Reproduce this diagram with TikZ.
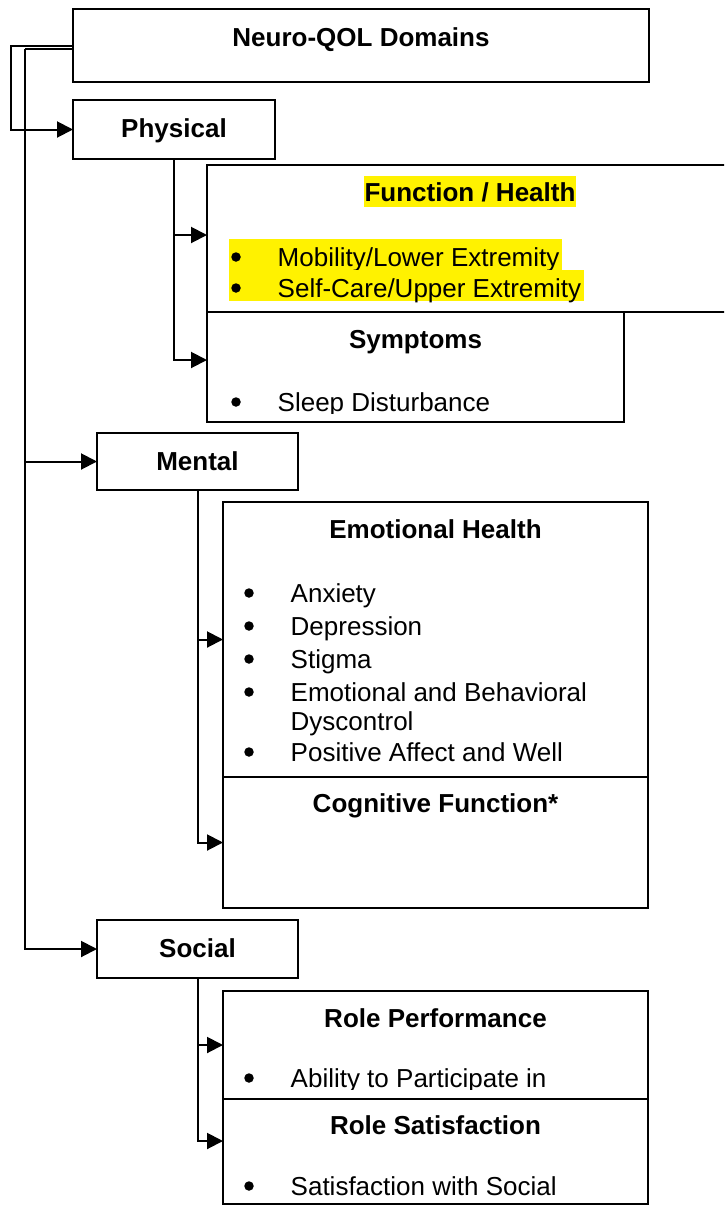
\documentclass[tikz,border=0pt]{standalone}
\usepackage{fontspec}
\setmainfont{Liberation Sans}
\usetikzlibrary{arrows.meta}
\tikzset{
  box/.style={draw,rectangle,line width=2pt,inner sep=0pt,outer sep=0pt,anchor=north west},
  ttl/.style={font=\fontsize{26}{32}\selectfont\bfseries,anchor=base,inner sep=0pt},
  itm/.style={font=\fontsize{26}{32}\selectfont,anchor=base west,inner sep=0pt},
  hl/.style={fill=yellow,inner xsep=3pt,inner ysep=0pt,text height=27pt,text depth=4pt},
  hlttl/.style={fill=yellow,inner xsep=1pt,inner ysep=0pt,text height=25pt,text depth=6pt},
  dot/.style={circle,fill=black,inner sep=0pt,minimum size=9.5pt},
  link/.style={line width=2pt},
  arr/.style={line width=2pt,-{Triangle[length=16pt,width=16pt]}},
}
\newcommand{\bul}{\hspace*{46pt}}

\begin{document}
\begin{tikzpicture}[x=1pt,y=-1pt]
  \clip (0,0) rectangle (724,1205);
  % boxes
  \node[box,minimum width=576pt,minimum height=73pt] (domains) at (73,9) {};
  \node[box,minimum width=202pt,minimum height=59pt] (physical) at (73,100) {};
  \node[box,minimum width=526pt,minimum height=147pt] (funchealth) at (207,165) {};
  \node[box,minimum width=417pt,minimum height=110pt] (symptoms) at (207,312) {};
  \node[box,minimum width=201pt,minimum height=57pt] (mental) at (97,433) {};
  \node[box,minimum width=425pt,minimum height=275pt] (emotional) at (223,502) {};
  \node[box,minimum width=425pt,minimum height=131pt] (cognitive) at (223,777) {};
  \node[box,minimum width=201pt,minimum height=58pt] (social) at (97,920) {};
  \node[box,minimum width=425pt,minimum height=108pt] (roleperf) at (223,991) {};
  \node[box,minimum width=425pt,minimum height=105pt] (rolesat) at (223,1099) {};

  % titles
  \node[ttl] (domainsttl) at ([yshift=-37pt]domains.north) {Neuro-QOL Domains};
  \node[ttl] (physicalttl) at ([yshift=-37pt]physical.north) {Physical};
  \node[ttl,hlttl] (funchealthttl) at ([yshift=-36pt]funchealth.north) {Function / Health};
  \node[ttl] (symptomsttl) at ([yshift=-36pt]symptoms.north) {Symptoms};
  \node[ttl] (mentalttl) at ([yshift=-37pt]mental.north) {Mental};
  \node[ttl] (emotionalttl) at ([yshift=-36pt]emotional.north) {Emotional Health};
  \node[ttl] (cognitivettl) at ([yshift=-35pt]cognitive.north) {Cognitive Function*};
  \node[ttl] (socialttl) at ([yshift=-37pt]social.north) {Social};
  \node[ttl] (roleperfttl) at ([yshift=-36pt]roleperf.north) {Role Performance};
  \node[ttl] (rolesatttl) at ([yshift=-35pt]rolesat.north) {Role Satisfaction};

  % items
  \node[itm,hl] (mobility) at ([xshift=21.5pt,yshift=-101pt]funchealth.north west) {\bul Mobility/Lower Extremity};
  \node[itm,hl] (selfcare) at ([xshift=21.5pt,yshift=-132pt]funchealth.north west) {\bul Self-Care/Upper Extremity};
  \begin{scope}
    \clip (symptoms.north west) rectangle ([yshift=9pt]symptoms.south east);
    \node[itm] (sleep) at ([xshift=24.5pt,yshift=-99pt]symptoms.north west) {\bul Sleep Disturbance};
  \end{scope}
  \node[itm] (anxiety) at ([xshift=21.5pt,yshift=-100pt]emotional.north west) {\bul Anxiety};
  \node[itm] (depression) at ([xshift=21.5pt,yshift=-133pt]emotional.north west) {\bul Depression};
  \node[itm] (stigma) at ([xshift=21.5pt,yshift=-166pt]emotional.north west) {\bul Stigma};
  \node[itm] (dyscontrol) at ([xshift=21.5pt,yshift=-199pt]emotional.north west) {\bul Emotional and Behavioral};
  \node[itm] (dyscontrolb) at ([xshift=67.5pt,yshift=-228pt]emotional.north west) {Dyscontrol};
  \node[itm] (positive) at ([xshift=21.5pt,yshift=-259pt]emotional.north west) {\bul Positive Affect and Well};
  \begin{scope}
    \clip (roleperf.north west) rectangle ([yshift=10pt]roleperf.south east);
    \node[itm] (ability) at ([xshift=21.5pt,yshift=-96pt]roleperf.north west) {\bul Ability to Participate in};
  \end{scope}
  \begin{scope}
    \clip (rolesat.north west) rectangle ([yshift=8pt]rolesat.south east);
    \node[itm] (satisfaction) at ([xshift=21.5pt,yshift=-96pt]rolesat.north west) {\bul Satisfaction with Social};
  \end{scope}

  % bullets
  \foreach \n in {mobility,selfcare}
    \node[dot] (\n dot) at ([xshift=7.5pt,yshift=9pt]\n.base west) {};
  \foreach \n in {sleep,anxiety,depression,stigma,dyscontrol,positive,ability,satisfaction}
    \node[dot] (\n dot) at ([xshift=4.5pt,yshift=9pt]\n.base west) {};

  % connectors
  \draw[arr] (domains.west) -- ++(-62,0) |- (physical.west);
  \draw[link] ([yshift=-3.5pt]domains.west) -- ++(-48,0) coordinate (trunk);
  \draw[arr] (trunk) |- (mental.west);
  \draw[arr] (trunk) |- (social.west);
  \draw[arr] (physical.south) |- ([yshift=3.5pt]funchealth.west);
  \draw[arr] (physical.south) |- ([yshift=7pt]symptoms.west);
  \draw[arr] (mental.south) |- (emotional.west);
  \draw[arr] (mental.south) |- (cognitive.west);
  \draw[arr] (social.south) |- (roleperf.west);
  \draw[arr] (social.south) |- ([yshift=10.5pt]rolesat.west);
\end{tikzpicture}
\end{document}
